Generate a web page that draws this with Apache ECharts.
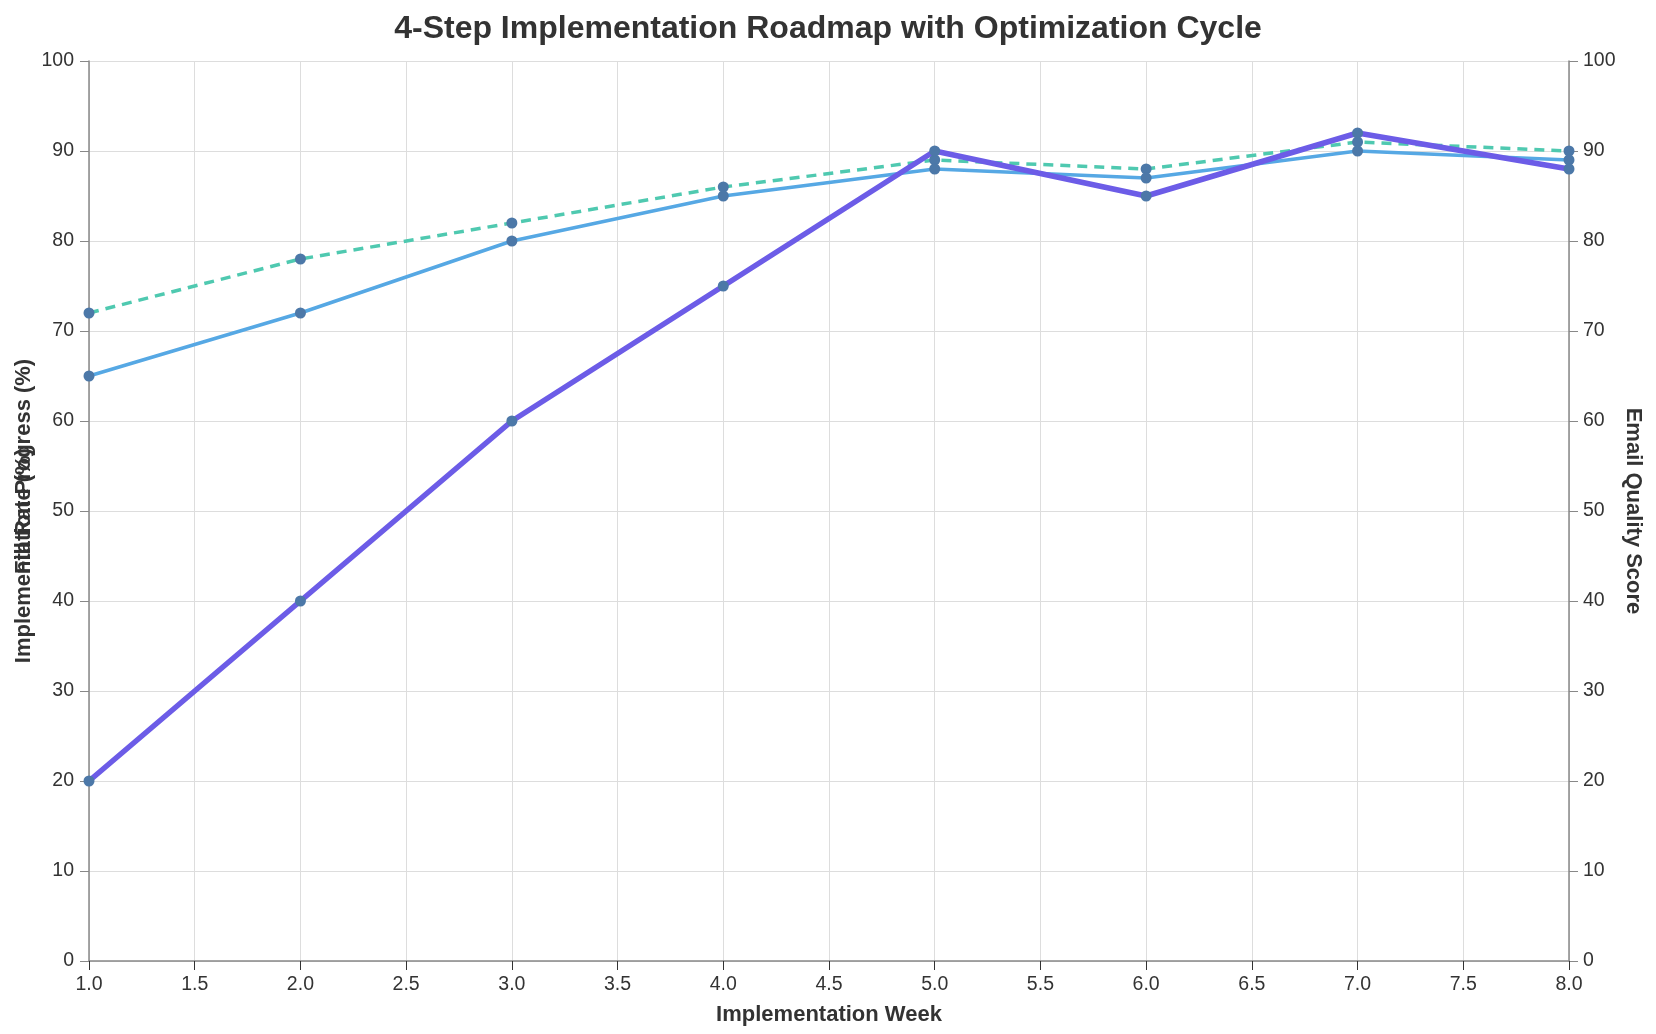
<!DOCTYPE html>
<html>
<head>
<meta charset="UTF-8">
<title>4-Step Implementation Roadmap</title>
<script src="https://cdn.jsdelivr.net/npm/echarts@6/dist/echarts.min.js"></script>
<style>
	html, body { margin: 0; padding: 0; background: #fff; }
	#main { width: 1656px; height: 1034px; }
</style>
</head>
<body>
<div id="main"></div>
<script type="text/javascript">
	// weeks on the x axis
	var weeks = [1, 2, 3, 4, 5, 6, 7, 8];
	// implementation progress (%), left axis
	var progress = [20, 40, 60, 75, 90, 85, 92, 88];
	// fill rate (%), left axis
	var fillRate = [65, 72, 80, 85, 88, 87, 90, 89];
	// email quality score, right axis
	var qualityScore = [72, 78, 82, 86, 89, 88, 91, 90];

	var font = 'Liberation Sans, Arial, sans-serif';

	function pairs(vals) {
		var out = [];
		for (var i = 0; i < weeks.length; i++) {
			out.push([weeks[i], vals[i]]);
		}
		return out;
	}

	var myChart = echarts.init(document.getElementById('main'));

	var yBase = {
		type: 'value',
		min: 0,
		max: 100,
		interval: 10,
		nameLocation: 'middle',
		nameMoveOverlap: false,
		nameTextStyle: { fontFamily: font, fontSize: 22, fontWeight: 'bold', color: '#333' },
		axisLine: { show: true, lineStyle: { color: '#888', width: 1.5 } },
		axisTick: { show: true, length: 9, lineStyle: { color: '#888' } },
		axisLabel: { fontFamily: font, fontSize: 19.5, color: '#333', margin: 15 },
		splitLine: { show: false }
	};

	var option = {
		animation: false,
		title: {
			text: '4-Step Implementation Roadmap with Optimization Cycle',
			left: 'center',
			top: 8,
			textStyle: { fontFamily: font, fontSize: 32, fontWeight: 'bold', color: '#333' }
		},
		grid: { left: 89, right: 87, top: 61, bottom: 73, containLabel: false },
		xAxis: {
			type: 'value',
			min: 1,
			max: 8,
			interval: 0.5,
			name: 'Implementation Week',
			nameLocation: 'middle',
			nameGap: 43,
			nameTextStyle: { fontFamily: font, fontSize: 22, fontWeight: 'bold', color: '#333' },
			axisLine: { onZero: false, lineStyle: { color: '#888', width: 1.5 } },
			axisTick: { length: 9, lineStyle: { color: '#333' } },
			axisLabel: {
				fontFamily: font, fontSize: 19.5, color: '#333', margin: 14,
				formatter: function (v) { return v.toFixed(1); }
			},
			splitLine: { show: true, lineStyle: { color: '#ddd', width: 1 } }
		},
		yAxis: [
			echarts.util.merge({
				position: 'left',
				name: 'Implementation Progress (%)',
				nameGap: 54,
				nameRotate: 90,
				splitLine: { show: true, lineStyle: { color: '#ddd', width: 1 } }
			}, yBase),
			echarts.util.merge({
				position: 'left',
				name: 'Fill Rate (%)',
				nameGap: 54,
				nameRotate: 90,
				axisLine: { show: false },
				axisTick: { show: false },
				axisLabel: { show: false }
			}, yBase),
			echarts.util.merge({
				position: 'right',
				name: 'Email Quality Score',
				nameGap: 53,
				nameRotate: -90,
				axisLabel: { margin: 14 }
			}, yBase)
		],
		series: [
			{
				name: 'Email Quality Score',
				type: 'line',
				yAxisIndex: 2,
				data: pairs(qualityScore),
				showSymbol: false,
				z: 2,
				lineStyle: { color: '#4fc9b0', width: 3.5, type: [10, 7] }
			},
			{
				name: 'Fill Rate (%)',
				type: 'line',
				yAxisIndex: 1,
				data: pairs(fillRate),
				showSymbol: false,
				z: 3,
				lineStyle: { color: '#56a8e4', width: 3.5 }
			},
			{
				name: 'Implementation Progress (%)',
				type: 'line',
				yAxisIndex: 0,
				data: pairs(progress),
				showSymbol: false,
				z: 4,
				lineStyle: { color: '#6c5ce7', width: 5.5 }
			},
			// points drawn on top of all lines
			{ type: 'scatter', yAxisIndex: 2, data: pairs(qualityScore), symbolSize: 11, z: 10, itemStyle: { color: '#4c78a8', opacity: 1 } },
			{ type: 'scatter', yAxisIndex: 1, data: pairs(fillRate), symbolSize: 11, z: 10, itemStyle: { color: '#4c78a8', opacity: 1 } },
			{ type: 'scatter', yAxisIndex: 0, data: pairs(progress), symbolSize: 11, z: 10, itemStyle: { color: '#4c78a8', opacity: 1 } }
		]
	};

	myChart.setOption(option);
</script>
</body>
</html>
